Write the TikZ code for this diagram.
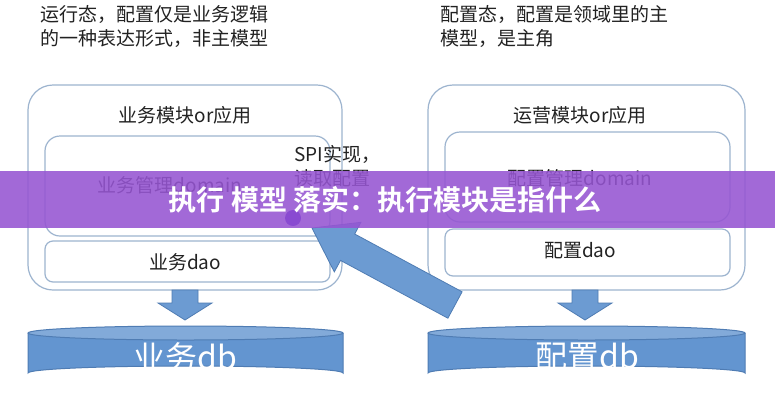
\documentclass[tikz,border=0pt]{standalone}
\usepackage{fontspec}
\setmainfont{Noto Sans CJK SC}
\newfontfamily\cjkb{Noto Sans CJK SC}[BoldFont={Noto Sans CJK SC Bold}]
\begin{document}
\begin{tikzpicture}[x=1pt,y=-1pt,
  frame/.style={draw=edge,line width=1.2pt,rounded corners=#1},
  lbl/.style={font=\fontsize{19}{24}\selectfont,text=txt},
  blk/.style={fill=arrowblue,draw=arrowedge,line width=0.8pt}]
\definecolor{edge}{HTML}{9DB4CF}
\definecolor{txt}{HTML}{222222}
\definecolor{arrowblue}{HTML}{6C9BD2}
\definecolor{arrowedge}{HTML}{4F7CB3}
\definecolor{dbfill}{HTML}{6395D0}
\definecolor{banner}{RGB}{150,85,210}
\useasboundingbox (0,0) rectangle (775,400);
\fill[white] (0,0) rectangle (775,400);
% top texts
\node[lbl,anchor=north west,align=left,inner sep=0pt] (tl) at (40,5) {运行态，配置仅是业务逻辑\\的一种表达形式，非主模型};
\node[lbl,anchor=north west,align=left,inner sep=0pt] (tr) at (440,5) {配置态，配置是领域里的主\\模型，是主角};
% left stack
\draw[frame=25] (28,85) rectangle (342,290);
\node[lbl] (lm) at (185,115) {业务模块or应用};
\draw[frame=15] (45,136) rectangle (330,236);
\node[lbl] (ld) at (170,185) {业务管理domain};
\fill[blue!60!violet] (293,218) circle (8);
\draw[frame=8] (45,241) rectangle (330,282);
\node[lbl] (lda) at (185,262) {业务dao};
\draw[blk] (172,290) -- (198,290) -- (198,303) -- (212,303) -- (185,320) -- (158,303) -- (172,303) -- cycle;
% left cylinder
\draw[fill=dbfill,draw=arrowedge,line width=1pt] (28,333) -- (28,373) arc[start angle=180,end angle=360,x radius=157.5,y radius=7] -- (343,333);
\draw[fill=arrowblue!85,draw=arrowedge,line width=1pt] (185.5,333) ellipse[x radius=157.5,y radius=7];
\node[font=\fontsize{32}{36}\selectfont,text=white] (ldb) at (185,357) {业务db};
% right stack
\draw[frame=25] (428,85) rectangle (745,290);
\node[lbl] (rm) at (580,115) {运营模块or应用};
\draw[frame=15] (445,132) rectangle (730,222);
\node[lbl] (rd) at (580,178) {配置管理domain};
\draw[frame=8] (445,229) rectangle (730,276);
\node[lbl] (rda) at (580,251) {配置dao};
\draw[blk] (572,290) -- (598,290) -- (598,303) -- (612,303) -- (585,320) -- (558,303) -- (572,303) -- cycle;
\draw[fill=dbfill,draw=arrowedge,line width=1pt] (428,333) -- (428,373) arc[start angle=180,end angle=360,x radius=158.5,y radius=7] -- (745,333);
\draw[fill=arrowblue!85,draw=arrowedge,line width=1pt] (586.5,333) ellipse[x radius=158.5,y radius=7];
\node[font=\fontsize{32}{36}\selectfont,text=white] (rdb) at (587,357) {配置db};
% diagonal arrow
\draw[blk] (462.1,291.8) -- (447.9,318.2) -- (340.5,260.4) -- (334.3,271.9) -- (312,228) -- (360.9,222.3) -- (354.7,234.0) -- cycle;
\node[lbl,align=left,anchor=north west,inner sep=0pt] (spi) at (294,145) {SPI实现，\\读取配置};
% banner
\fill[banner,opacity=0.88] (0,171) rectangle (775,228);
\node[font=\cjkb\bfseries\fontsize{28}{32}\selectfont,text=white] (bt) at (385,200) {执行 模型 落实：执行模块是指什么};
\end{tikzpicture}
\end{document}
